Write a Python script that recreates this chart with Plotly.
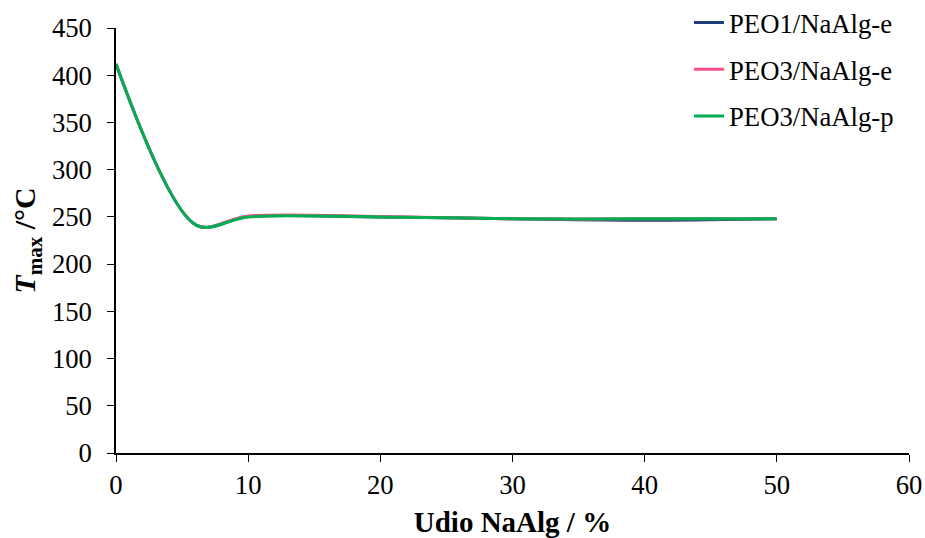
import plotly.graph_objects as go

x_vals = [0, 6.1, 10, 20, 30, 40, 50]
peo1_e = [412, 241, 250.5, 250, 248, 246.5, 248]
peo3_e = [412, 241, 251, 250.5, 248, 248, 248]
peo3_p = [412, 241, 250, 250, 248, 248, 248]
names = ["PEO1/NaAlg-e", "PEO3/NaAlg-e", "PEO3/NaAlg-p"]
colors = ["#1F3F7A", "#FF4F8B", "#00B050"]
x_ticks = [0, 10, 20, 30, 40, 50, 60]
y_ticks = [0, 50, 100, 150, 200, 250, 300, 350, 400, 450]

font = "Liberation Serif, Times New Roman, serif"
fig = go.Figure()
for i, (n, yv, c) in enumerate(zip(names, [peo1_e, peo3_e, peo3_p], colors)):
    fig.add_trace(go.Scatter(x=x_vals, y=yv, name=n, mode="lines",
                             line=dict(color=c, width=3, shape="spline", smoothing=0.9),
                             legendgroup=str(i)))

# plot area: x 116..909, y 28..453 (page body margin removed below)
fig.update_layout(
    width=925, height=538,
    margin=dict(l=116, r=16, t=28, b=85, autoexpand=False),
    plot_bgcolor="white", paper_bgcolor="white",
    font=dict(family=font, size=26.7, color="black"),
    showlegend=True,
    legend=dict(x=0.7226, y=1.069, xanchor="left", yanchor="top",
                font=dict(size=26.7), tracegroupgap=9, bgcolor="rgba(0,0,0,0)"),
    xaxis=dict(range=[0, 60], tickvals=x_ticks, showgrid=False, zeroline=False,
               showline=True, linecolor="black", linewidth=1.5, automargin=False,
               ticks="outside", ticklen=7, tickcolor="black",
               title=dict(text="<b>Udio NaAlg / %</b>", font=dict(size=29), standoff=20)),
    yaxis=dict(range=[0, 450], tickvals=y_ticks, showgrid=False, zeroline=False,
               automargin=False, ticklabelstandoff=10,
               showline=True, linecolor="black", linewidth=1.5,
               ticks="outside", ticklen=7, tickcolor="black",
               title=dict(text="<b><i>T</i><sub>max</sub> /°C</b>", font=dict(size=30), standoff=7)),
)
fig.write_html("out.html", config={"displayModeBar": False},
               post_script="document.body.style.margin='0px';document.body.style.overflow='hidden';")
